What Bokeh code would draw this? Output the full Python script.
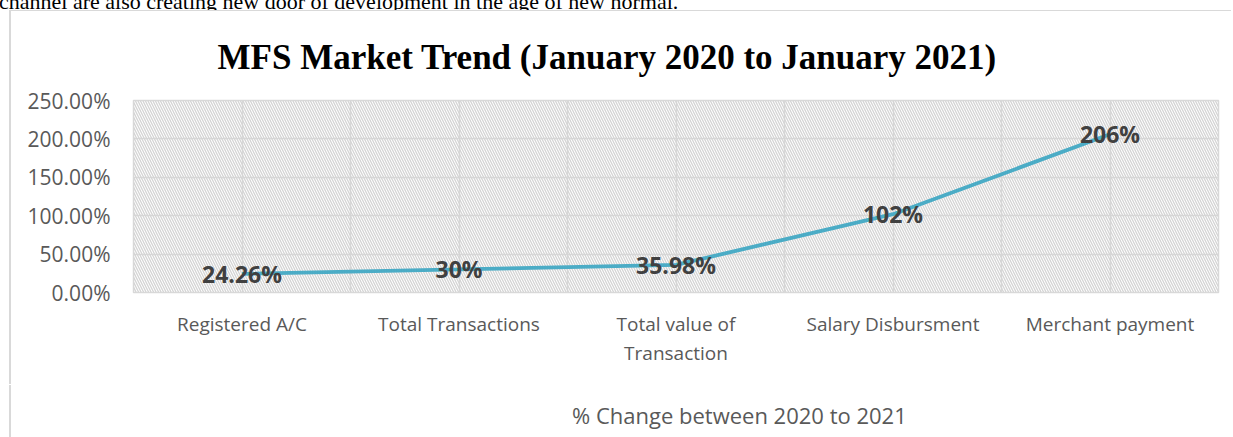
from bokeh.plotting import figure
from bokeh.layouts import column
from bokeh.models import (Range1d, FixedTicker, NumeralTickFormatter, BoxAnnotation,
                          Legend, LegendItem, ColumnDataSource, Div)
from bokeh.core.properties import value
from bokeh.embed import file_html
from bokeh.resources import INLINE

categories = ["Registered A/C", "Total Transactions", "Total value of\nTransaction",
              "Salary Disbursment", "Merchant payment"]
pct_change = [0.2426, 0.30, 0.3598, 1.02, 2.06]
value_labels = ["24.26%", "30%", "35.98%", "102%", "206%"]
y_ticks = [0.0, 0.5, 1.0, 1.5, 2.0, 2.5]
series_name = "% Change between 2020 to 2021"
title_text = "MFS Market Trend (January 2020 to January 2021)"
doc_text = "channel are also creating new door of development in the age of new normal."

LINE_COLOR = "#4bacc6"
LINE_WIDTH = 3.8

n = len(categories)
xs = [i + 0.5 for i in range(n)]
src = ColumnDataSource(dict(x=xs, y=pct_change, label=value_labels))

header = Div(text=('<div style="position:relative; top:-9px; left:-1px; white-space:nowrap; '
                   'font-family:\'Liberation Serif\'; font-size:22px; line-height:22px; '
                   'color:#000">' + doc_text + '</div>'),
             width=1233, height=11, margin=0, styles={"overflow": "hidden"})

# main chart: canvas page y 11..385
p = figure(width=1222, height=374, output_backend="svg", toolbar_location=None,
           x_range=Range1d(0, n), y_range=Range1d(y_ticks[0], y_ticks[-1]),
           min_border_left=122, min_border_right=15, min_border_top=89, min_border_bottom=93)
p.styles = {"margin-left": "11px", "box-shadow": "-2px -1px 0 0 #d9d9d9"}

# title
p.title.text = title_text
p.title.text_font = "Liberation Serif"
p.title.text_font_size = "35px"
p.title.text_font_style = "bold"
p.title.text_color = "#000000"
p.title.align = "left"
p.title.offset = 84
p.title.standoff = 47

# hatched plot area
p.add_layout(BoxAnnotation(fill_alpha=0, line_alpha=0, hatch_pattern="left_diagonal_line",
                           hatch_color="#d4d4d4", hatch_scale=5, hatch_weight=1.3,
                           level="underlay"))
p.background_fill_color = "white"
p.outline_line_color = "#d9d9d9"
p.outline_line_width = 1.5

# grids
p.xgrid.ticker = FixedTicker(ticks=[i * 0.5 for i in range(2 * n + 1)])
p.ygrid.ticker = FixedTicker(ticks=y_ticks)
for g in (p.xgrid, p.ygrid):
    g.grid_line_color = "#d9d9d9"
    g.grid_line_width = 1.5

# axes
p.xaxis.ticker = FixedTicker(ticks=xs)
p.xaxis.major_label_overrides = {x: c for x, c in zip(xs, categories)}
p.yaxis.ticker = FixedTicker(ticks=y_ticks)
p.yaxis.formatter = NumeralTickFormatter(format="0.00%")
for ax in (p.xaxis, p.yaxis):
    ax.axis_line_color = None
    ax.major_tick_line_color = None
    ax.minor_tick_line_color = None
    ax.major_label_text_font = "Open Sans"
    ax.major_label_text_color = "#595959"
p.xaxis.major_label_text_font_size = "19px"
p.xaxis.major_label_text_line_height = 1.15
p.xaxis.major_label_standoff = 12
p.yaxis.major_label_text_font_size = "21px"
p.yaxis.major_label_standoff = 17

# series
p.line("x", "y", source=src, line_color=LINE_COLOR, line_width=LINE_WIDTH)
p.text("x", "y", text="label", source=src, text_align="center", text_baseline="middle",
       text_font=value("Open Sans"), text_font_size="23px", text_font_style="bold",
       text_color="#404040")

# legend strip: canvas page y 385..437
pl = figure(width=1222, height=52, output_backend="svg", toolbar_location=None,
            x_axis_type=None, y_axis_type=None, min_border=0)
pl.styles = {"margin-left": "11px", "box-shadow": "-2px 0 0 0 #d9d9d9"}
pl.outline_line_color = None
pl.grid.visible = False
sample = pl.line(x=[], y=[], line_color=LINE_COLOR, line_width=LINE_WIDTH)
legend = Legend(items=[LegendItem(label=series_name, renderers=[sample])], location=(387, 7),
                orientation="horizontal", border_line_color=None, background_fill_alpha=0,
                glyph_width=47, label_standoff=5, padding=0, margin=0,
                label_text_font="Open Sans", label_text_font_size="22px",
                label_text_color="#595959")
pl.add_layout(legend, "center")

layout = column(header, p, pl, spacing=0)
open("out.html", "w").write(file_html(layout, INLINE))
